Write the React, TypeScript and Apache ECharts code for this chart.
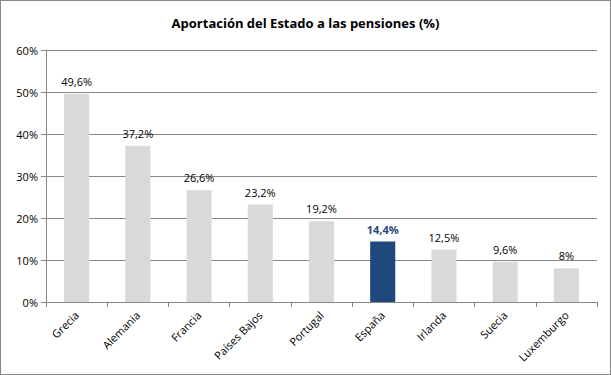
import React, { useEffect, useRef } from "react";
import * as echarts from "echarts";

const categories = ["Grecia", "Alemania", "Francia", "Países Bajos", "Portugal", "España", "Irlanda", "Suecia", "Luxemburgo"];
const values = [49.6, 37.2, 26.6, 23.2, 19.2, 14.4, 12.5, 9.6, 8];
const highlight = "España";
const yTicks = [0, 10, 20, 30, 40, 50, 60];

const FONT = "'Open Sans', 'DejaVu Sans', sans-serif";

export default function App() {
  const ref = useRef<HTMLDivElement>(null);
  useEffect(() => {
    document.body.style.margin = "0";
    const chart = echarts.init(ref.current!, null, { renderer: "svg" });
    chart.setOption({
      animation: false,
      backgroundColor: "transparent",
      title: {
        text: "Aportación del Estado a las pensiones (%)",
        left: "center",
        top: 11,
        textStyle: { fontFamily: FONT, fontSize: 13, fontWeight: "bold", color: "#000" },
      },
      grid: { left: 46, right: 14, top: 50, bottom: 73 },
      xAxis: {
        type: "category",
        data: categories,
        axisLine: { lineStyle: { color: "#868686" } },
        axisTick: { show: true, alignWithLabel: false, length: 5, lineStyle: { color: "#868686" } },
        axisLabel: { rotate: 45, fontFamily: FONT, fontSize: 11, color: "#000", margin: 11, interval: 0 },
      },
      yAxis: {
        type: "value",
        min: 0,
        max: 60,
        interval: 10,
        axisLine: { show: true, lineStyle: { color: "#868686" } },
        axisTick: { show: true, length: 5, lineStyle: { color: "#868686" } },
        splitLine: { lineStyle: { color: "#868686" } },
        axisLabel: {
          fontFamily: FONT,
          fontSize: 11,
          color: "#000",
          margin: 8,
          formatter: (v: number) => (yTicks.includes(v) ? v + "%" : ""),
        },
      },
      series: [
        {
          type: "bar",
          barCategoryGap: "59%",
          data: values.map((v, i) => {
            const hi = categories[i] === highlight;
            return {
              value: v,
              itemStyle: { color: hi ? "#1F497D" : "#D9D9D9" },
              label: hi ? { color: "#1F497D", fontWeight: "bold" } : undefined,
            };
          }),
          label: {
            show: true,
            position: "top",
            distance: 7,
            fontFamily: FONT,
            fontSize: 11,
            color: "#000",
            formatter: (p: any) => String(p.value).replace(".", ",") + "%",
          },
        },
      ],
    });
    return () => chart.dispose();
  }, []);
  return (
    <div style={{ width: 611, height: 375, boxSizing: "border-box", border: "1px solid #888", position: "relative", background: "#fff" }}>
      <div ref={ref} style={{ position: "absolute", left: -1, top: -1, width: 611, height: 375 }} />
    </div>
  );
}
